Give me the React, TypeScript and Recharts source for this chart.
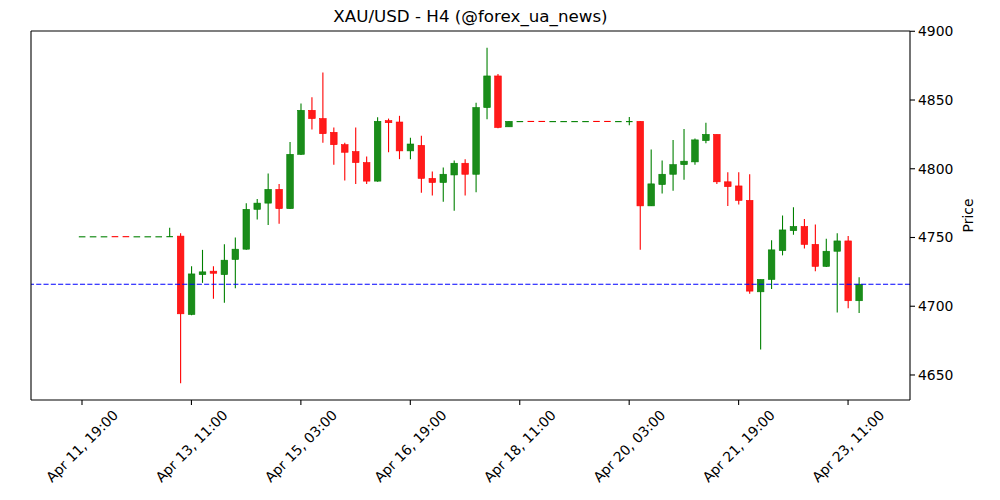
import React from 'react';
import { ComposedChart, Bar, XAxis, YAxis, ReferenceLine } from 'recharts';

// 4h candles, Apr 11 19:00 -> Apr 23 15:00 (weekend gaps are flat candles)
const opens = [
  4750.5, 4750.5, 4750.5, 4750.6, 4750.6, 4750.5, 4750.5, 4750.5, 4750.5, 4751,
  4694, 4723, 4725.5, 4723, 4734, 4741.5, 4770.5, 4775, 4785, 4771,
  4810.5, 4842.5, 4836.5, 4826.5, 4817.5, 4812.5, 4804.5, 4791, 4835, 4834,
  4813, 4817, 4793, 4790, 4795.5, 4804, 4796, 4844.5, 4867.5, 4830.5,
  4834.3, 4834.4, 4834.4, 4834.3, 4834.3, 4834.3, 4834.3, 4834.4, 4834.4, 4834.3,
  4834.2, 4834.5, 4773, 4788.5, 4796, 4803, 4805, 4820.5, 4825, 4790.5,
  4787.5, 4777, 4710.5, 4719.5, 4740.5, 4755, 4758, 4745, 4729, 4740,
  4747.5, 4704,
];
const highs = [
  4750.5, 4750.5, 4750.5, 4750.6, 4750.6, 4750.5, 4750.5, 4750.5, 4757, 4753,
  4729, 4741, 4729, 4745, 4750, 4775, 4778, 4796.5, 4789, 4819.5,
  4847.5, 4852, 4870, 4830, 4819, 4830, 4809, 4837.5, 4836.5, 4838.5,
  4822.5, 4824, 4798, 4801, 4806, 4807, 4848, 4888, 4869, 4834.5,
  4834.3, 4834.4, 4834.4, 4834.3, 4834.3, 4834.3, 4834.3, 4834.4, 4834.4, 4834.3,
  4837.7, 4834.5, 4814, 4806, 4821, 4829, 4822, 4833.5, 4825, 4797.5,
  4797.5, 4796, 4719.5, 4748, 4766, 4772, 4763.5, 4759.5, 4749, 4753,
  4751, 4721,
];
const lows = [
  4750.5, 4750.5, 4750.5, 4750.5, 4750.5, 4750.5, 4750.5, 4750.5, 4750.4, 4644,
  4693.5, 4717, 4705.5, 4702.5, 4713, 4741, 4763, 4759, 4760, 4771,
  4810, 4828.5, 4819, 4803, 4791.5, 4789, 4789, 4790.5, 4812, 4807,
  4807, 4782.5, 4780.5, 4776, 4769.5, 4780.5, 4783, 4836, 4829.5, 4830.5,
  4834.3, 4834.3, 4834.3, 4834.3, 4834.3, 4834.3, 4834.3, 4834.3, 4834.3, 4834.3,
  4831.7, 4741, 4773, 4782, 4784, 4792, 4803, 4818.5, 4789, 4773,
  4774, 4709, 4668.5, 4712.5, 4737, 4752, 4742, 4725.5, 4728.5, 4695.5,
  4698.5, 4695,
];
const closes = [
  4750.5, 4750.5, 4750.5, 4750.5, 4750.5, 4750.5, 4750.5, 4750.5, 4750.6, 4694.5,
  4723.5, 4725, 4724, 4733.5, 4741.5, 4770.5, 4775, 4785, 4771, 4810.5,
  4842.5, 4836.5, 4825.5, 4817.5, 4812, 4804.5, 4791, 4834.5, 4833.5, 4813,
  4818, 4793, 4790, 4796, 4804, 4796, 4844.5, 4867.5, 4830, 4834.5,
  4834.3, 4834.3, 4834.3, 4834.3, 4834.3, 4834.3, 4834.3, 4834.3, 4834.3, 4834.3,
  4834.3, 4773, 4789, 4796, 4803, 4805.5, 4821, 4825, 4790.5, 4787,
  4777, 4711, 4719.5, 4741, 4755.5, 4758, 4745, 4729, 4740, 4747.5,
  4704, 4716,
];

const tickIndex = [0, 10, 20, 30, 40, 50, 60, 70];
const tickLabels = [
  'Apr 11, 19:00', 'Apr 13, 11:00', 'Apr 15, 03:00', 'Apr 16, 19:00',
  'Apr 18, 11:00', 'Apr 20, 03:00', 'Apr 21, 19:00', 'Apr 23, 11:00',
];
const priceTicks = [4650, 4700, 4750, 4800, 4850, 4900];
const lastPrice = 4716;
const xDomain = [-4.66, 75.66];
const yDomain = [4631.8, 4900.2];

const UP = '#1a8c1a';
const UP_EDGE = '#008000';
const DOWN = '#ff1a1a';
const DOWN_EDGE = '#ff0000';
const FONT = 'DejaVu Sans, sans-serif';

const data = opens.map((o, i) => ({
  i,
  o,
  h: highs[i],
  l: lows[i],
  c: closes[i],
  range: [lows[i], highs[i]],
}));

const Candle = (props: any) => {
  const { x, y, width, height, payload } = props;
  const { o, h, l, c } = payload;
  const up = c >= o;
  const fill = up ? UP : DOWN;
  const edge = up ? UP_EDGE : DOWN_EDGE;
  const cx = x + width / 2;
  const top = Math.min(y, y + height);
  const bottom = Math.max(y, y + height);
  const k = h > l ? (bottom - top) / (h - l) : 0;
  const yO = top + (h - o) * k;
  const yC = top + (h - c) * k;
  const bTop = Math.min(yO, yC);
  const bH = Math.abs(yO - yC);
  const bw = 6.6;
  return (
    <g>
      {h > l && <line x1={cx} x2={cx} y1={top} y2={bottom} stroke={edge} strokeWidth={1.1} />}
      {bH >= 1 ? (
        <rect x={cx - bw / 2} y={bTop} width={bw} height={bH} fill={fill} stroke={edge} strokeWidth={0.6} />
      ) : (
        <line x1={cx - bw / 2} x2={cx + bw / 2} y1={bTop} y2={bTop} stroke={edge} strokeWidth={1.1} />
      )}
    </g>
  );
};

const XTick = (props: any) => {
  const { x, y, payload } = props;
  const label = tickLabels[tickIndex.indexOf(payload.value)];
  return (
    <g transform={`translate(${x},${y + 41}) rotate(-45)`}>
      <text textAnchor="middle" dominantBaseline="central" fontSize={13.9} fontFamily={FONT} fill="#000">
        {label}
      </text>
    </g>
  );
};

const App: React.FC = () => {
  return (
    <div style={{ position: 'absolute', left: 0, top: 0, width: 1000, height: 500, background: '#fff', fontFamily: FONT }}>
      <ComposedChart width={1000} height={500} data={data} margin={{ top: 31, right: 0, bottom: 0, left: 31 }}>
        <XAxis
          dataKey="i"
          type="number"
          domain={xDomain}
          allowDataOverflow
          ticks={tickIndex}
          tick={<XTick />}
          tickSize={5}
          tickMargin={0}
          height={100}
          interval={0}
          axisLine={{ stroke: '#000', strokeWidth: 1.1 }}
          tickLine={{ stroke: '#000', strokeWidth: 1.1 }}
        />
        <YAxis
          orientation="right"
          type="number"
          domain={yDomain}
          allowDataOverflow
          ticks={priceTicks}
          width={90}
          tickSize={5}
          tickMargin={3}
          tick={{ fill: '#000', fontSize: 13.9, fontFamily: FONT }}
          axisLine={{ stroke: '#000', strokeWidth: 1.1 }}
          tickLine={{ stroke: '#000', strokeWidth: 1.1 }}
        />
        <Bar dataKey="range" shape={<Candle />} isAnimationActive={false} />
        <ReferenceLine y={lastPrice} stroke="#0000ff" strokeWidth={1.1} strokeDasharray="5.1 2.2" />
        {/* top and left spines */}
        <ReferenceLine y={yDomain[1]} stroke="#000" strokeWidth={1.1} />
        <ReferenceLine x={xDomain[0]} stroke="#000" strokeWidth={1.1} />
      </ComposedChart>
      <svg width={1000} height={500} style={{ position: 'absolute', left: 0, top: 0, pointerEvents: 'none' }}>
        <text x={470.5} y={21.5} textAnchor="middle" fontSize={16.7} fontFamily={FONT} fill="#000">
          XAU/USD - H4 (@forex_ua_news)
        </text>
        <text
          x={968}
          y={215.5}
          textAnchor="middle"
          dominantBaseline="central"
          fontSize={13.9}
          fontFamily={FONT}
          fill="#000"
          transform="rotate(-90 968 215.5)"
        >
          Price
        </text>
      </svg>
    </div>
  );
};

export default App;
